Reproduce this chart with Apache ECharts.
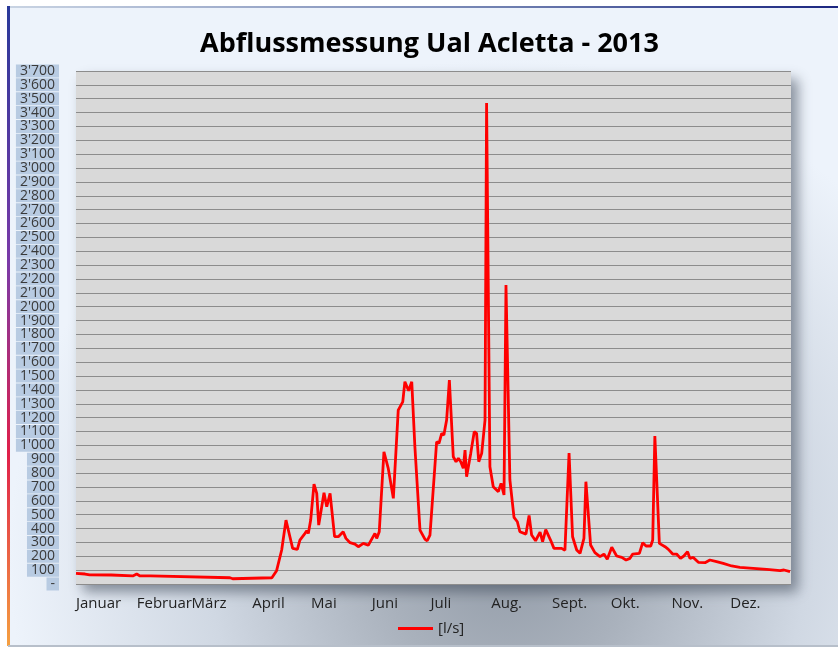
<!DOCTYPE html>
<html>
<head>
<meta charset="utf-8">
<script src="https://cdn.jsdelivr.net/npm/echarts@6/dist/echarts.min.js"></script>
<style>
html,body{margin:0;padding:0;background:#ffffff;}
#chart{width:838px;height:650px;}
</style>
</head>
<body>
<div id="chart"></div>
<script>
// Day of year (0 = 1 Jan) and discharge [l/s]
var days = [0,4.6,7,18,19,29,31,32.7,38,39,78.6,80,81,100,102.4,105,107.2,109.2,110.6,113,114.3,116.9,117.8,118.6,119.8,121.5,122.9,123.9,124.9,126.6,128,129.7,132,133.9,136.4,137.8,139.9,142.4,144.1,146.7,149.2,152.6,153.5,154.8,157.2,159.4,162,164.5,166.8,167.9,168.8,169.8,171.4,173,175.6,178.2,179.3,180.7,184.1,185.3,186.7,187.8,189.2,190.6,192.6,194,195.2,196.4,197.7,198.6,199.4,201.5,203.3,204.5,205.6,207.1,208.8,209.6,211.3,213,215.6,217,218.5,219.5,221.5,223.6,225.3,226.6,229.7,231.3,232.6,234.6,236.9,238.2,239.8,240.8,242.3,244,247.9,249.6,251.7,253.5,255.6,257.3,259.3,260.3,262.7,264.9,267.5,269.5,271.2,273.5,276,278.6,280.8,282.8,284.2,287.6,289.3,291,293.4,294.4,295.5,297.8,300.7,302.4,304.6,306.6,308.6,310.3,312.2,313.4,315.1,317.7,321.1,323.6,327,330.4,334.7,338.9,345.7,352.6,359.4,361.4,364.5];
var flow = [77,72,66,65,58,58,72,58,58,45,45,38,45,45,96,245,461,341,257,250,317,365,384,365,461,721,654,425,510,658,557,654,341,341,377,329,298,288,269,293,279,365,329,377,954,834,618,1254,1314,1459,1471,1394,1459,990,389,322,312,353,1026,1014,1087,1074,1182,1471,918,882,906,882,834,966,774,942,1098,1086,882,942,1182,3470,846,702,666,726,642,2156,750,481,449,377,360,495,353,312,374,305,392,389,315,257,257,243,945,341,245,221,329,738,281,226,197,216,178,265,202,192,173,185,216,221,298,274,274,317,1067,293,269,250,216,216,185,202,233,185,192,156,154,173,161,149,130,120,113,106,96,101,89];
var monthStarts = [0,31,59,90,120,151,181,212,243,273,304,334];
var monthNames = ['Januar','Februar','März','April','Mai','Juni','Juli','Aug.','Sept.','Okt.','Nov.','Dez.'];
var seriesName = '[l/s]';
var titleText = 'Abflussmessung Ual Acletta - 2013';

var pairs = days.map(function (d, i) { return [d, flow[i]]; });

function fmtY(v) {
  if (v === 0) return '-';
  var s = String(v);
  if (v >= 1000) s = s.slice(0, s.length - 3) + "'" + s.slice(s.length - 3);
  return s;
}

var chart = echarts.init(document.getElementById('chart'), null, {renderer: 'canvas'});
chart.setOption({
  backgroundColor: '#ffffff',
  animation: false,
  graphic: [
    {
      type: 'rect', z: -100, silent: true,
      shape: {x: 8, y: 7, width: 832, height: 639},
      style: {
        fill: {
          type: 'radial', x: 0.6, y: 0.86, r: 0.78,
          colorStops: [
            {offset: 0, color: '#939ca8'},
            {offset: 0.25, color: '#a9b1bc'},
            {offset: 0.6, color: '#d0d8e3'},
            {offset: 1, color: '#edf3fb'}
          ]
        }
      }
    },
    {
      type: 'rect', z: -99, silent: true,
      shape: {x: 8, y: 6, width: 832, height: 2},
      style: {
        fill: {
          type: 'linear', x: 0, y: 0, x2: 1, y2: 0,
          colorStops: [
            {offset: 0, color: '#c9d4e3'},
            {offset: 0.6, color: '#6f7fb0'},
            {offset: 1, color: '#1a2580'}
          ]
        }
      }
    },
    {
      type: 'rect', z: -99, silent: true,
      shape: {x: 7, y: 6, width: 3, height: 640},
      style: {
        fill: {
          type: 'linear', x: 0, y: 0, x2: 0, y2: 1,
          colorStops: [
            {offset: 0, color: '#2a3a9a'},
            {offset: 0.4, color: '#7a3aa8'},
            {offset: 0.7, color: '#e0204a'},
            {offset: 1, color: '#f5a040'}
          ]
        }
      }
    },
    {
      type: 'rect', z: -99, silent: true,
      shape: {x: 8, y: 645, width: 832, height: 2},
      style: {fill: '#b7bfca'}
    }
  ],
  title: {
    text: titleText,
    left: 195,
    top: 26,
    textAlign: 'left',
    padding: 5,
    textStyle: {
      fontFamily: 'Open Sans',
      fontWeight: 'bold',
      fontSize: 27,
      color: '#000000'
    }
  },
  legend: {
    data: [{name: seriesName, icon: 'rect'}],
    left: 393,
    top: 616,
    itemWidth: 35,
    itemHeight: 3,
    itemGap: 10,
    textStyle: {fontFamily: 'Open Sans', fontSize: 15, color: '#222222'}
  },
  grid: {
    left: 76, right: 47, top: 71, bottom: 66,
    show: true,
    backgroundColor: '#d9d9d9',
    borderWidth: 0,
    shadowColor: 'rgba(70,80,95,0.6)',
    shadowBlur: 12,
    shadowOffsetX: 7,
    shadowOffsetY: 8
  },
  xAxis: {
    type: 'value',
    min: 0,
    max: 365,
    axisLine: {show: false},
    axisTick: {show: false},
    splitLine: {show: false},
    axisLabel: {
      customValues: monthStarts,
      formatter: function (v) {
        var i = monthStarts.indexOf(v);
        return i >= 0 ? monthNames[i] : '';
      },
      align: 'left',
      margin: 12,
      fontFamily: 'Open Sans',
      fontSize: 15,
      color: '#222222',
      hideOverlap: false
    }
  },
  yAxis: {
    type: 'value',
    min: 0,
    max: 3700,
    interval: 100,
    axisLine: {show: false},
    axisTick: {show: false},
    splitLine: {lineStyle: {color: '#8c8c8c', width: 1.2}},
    axisLabel: {
      formatter: fmtY,
      showMinLabel: true,
      showMaxLabel: true,
      hideOverlap: false,
      margin: 17,
      fontFamily: 'Open Sans',
      fontSize: 14,
      lineHeight: 13,
      color: '#3a3a3a',
      backgroundColor: '#b8cbe2',
      padding: [0, 4, 0, 4]
    }
  },
  series: [{
    name: seriesName,
    type: 'line',
    data: pairs,
    showSymbol: false,
    symbol: 'none',
    lineStyle: {color: '#ff0000', width: 2.8},
    itemStyle: {color: '#ff0000'}
  }]
});
</script>
</body>
</html>
